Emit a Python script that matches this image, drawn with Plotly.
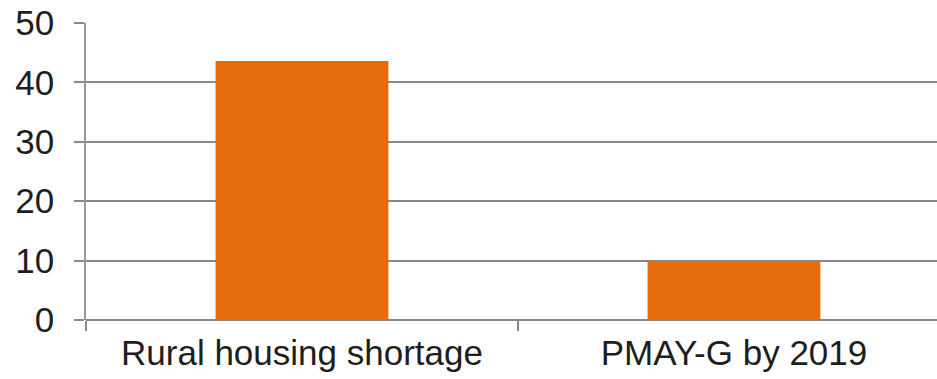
import plotly.graph_objects as go

categories = ["Rural housing shortage", "PMAY-G by 2019"]
values = [43.6, 9.8]
y_ticks = [0, 10, 20, 30, 40, 50]

fig = go.Figure(go.Bar(
    x=categories, y=values, width=0.4,
    marker=dict(color="#E46C0A", line=dict(width=0)),
))

fig.update_layout(
    width=937, height=379,
    margin=dict(l=86, r=0, t=23, b=59),
    paper_bgcolor="white", plot_bgcolor="white",
    showlegend=False,
    font=dict(family="Liberation Sans, Arial, sans-serif", size=34, color="#1e1e1e"),
)
fig.update_xaxes(
    range=[-0.5, 1.47], tickson="boundaries", ticks="outside", ticklen=10,
    tickcolor="#888888", tickwidth=1.5, showline=False, showgrid=False,
    tickfont=dict(size=35), ticklabelstandoff=9,
)
fig.update_yaxes(
    range=[0, 50], tickvals=y_ticks, ticks="outside", ticklen=10,
    tickcolor="#888888", tickwidth=1.5, showline=True, linecolor="#999999",
    linewidth=1.5, showgrid=True, gridcolor="#888888", gridwidth=1.5,
    zeroline=True, zerolinecolor="#888888", zerolinewidth=1.5,
    tickfont=dict(size=35), ticklabelstandoff=13,
)

fig.write_html("out.html")
